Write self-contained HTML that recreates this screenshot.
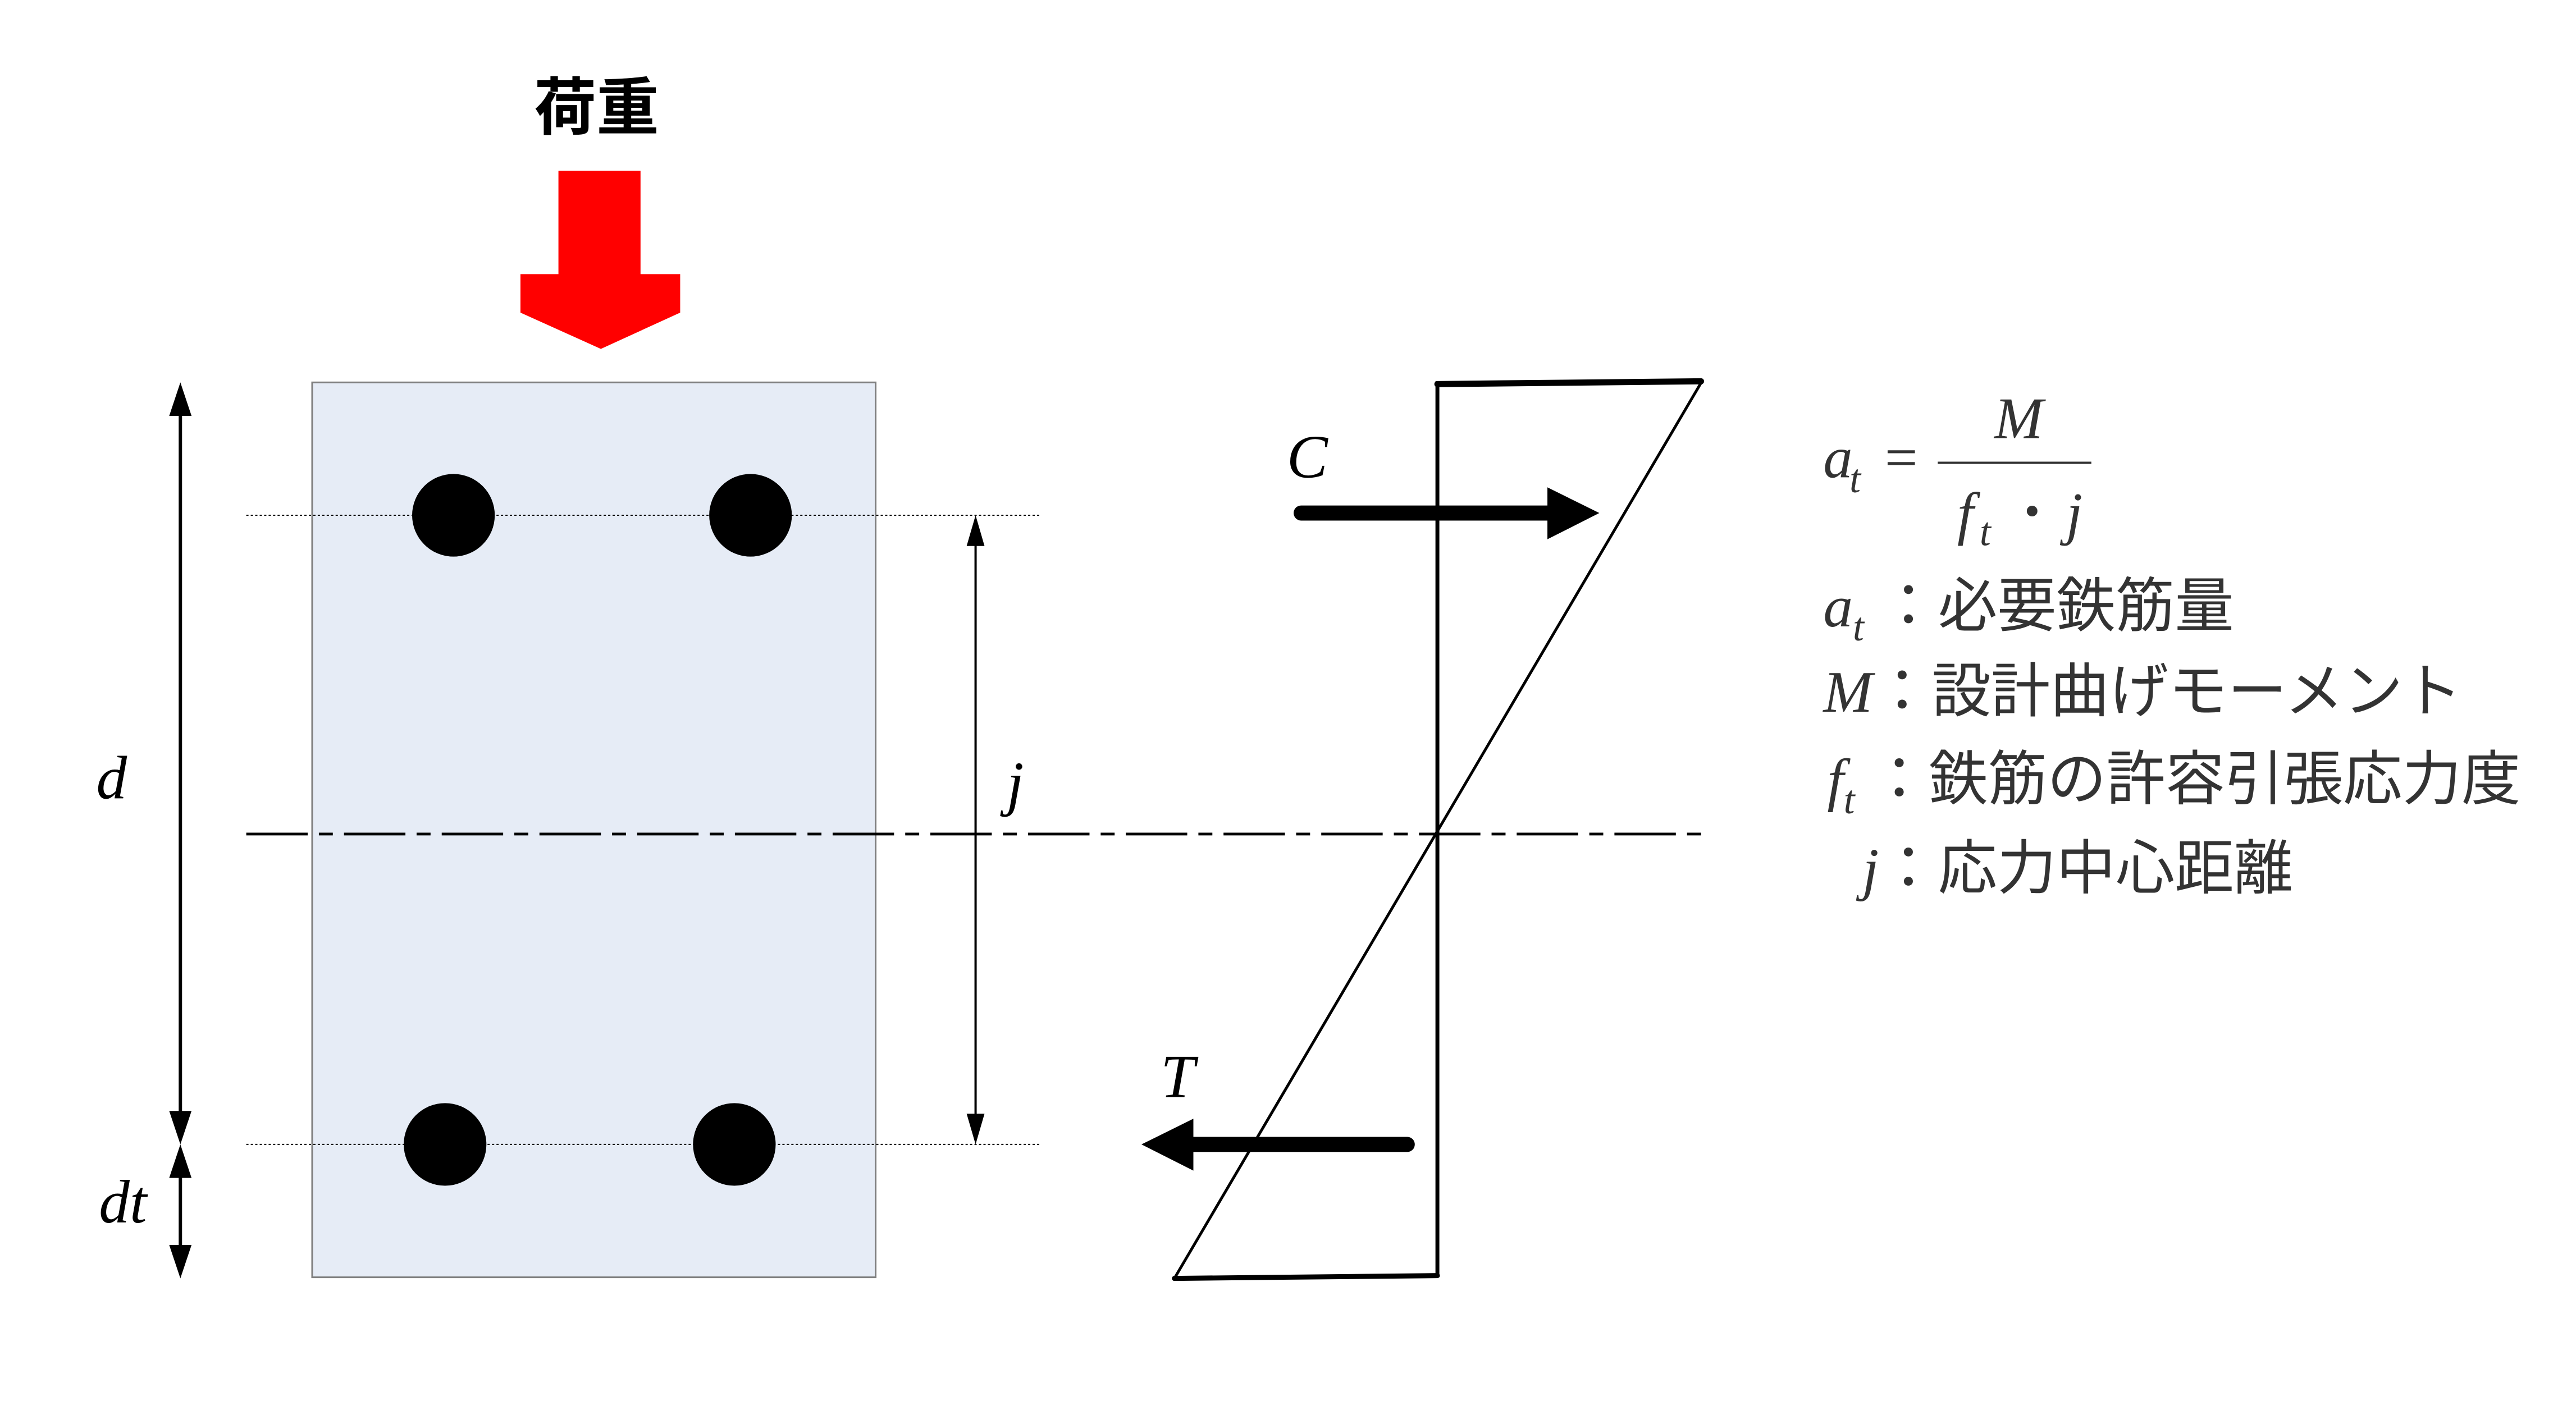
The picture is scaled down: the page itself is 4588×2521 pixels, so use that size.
<!DOCTYPE html>
<html><head><meta charset="utf-8"><style>
html,body{margin:0;padding:0;background:#fff;}
svg{display:block;}
</style></head><body>
<svg width="4588" height="2521" viewBox="0 0 4588 2521" xmlns="http://www.w3.org/2000/svg">
<rect width="4588" height="2521" fill="#fff"/>
<g transform="scale(0.9946)">
<text x="1068" y="232" font-family="'Liberation Sans','Noto Sans CJK JP',sans-serif" font-size="112" font-weight="bold" text-anchor="middle" fill="#000">荷重</text>
<polygon points="1000,306 1147,306 1147,491 1218,491 1218,560 1076,625 932,560 932,491 1000,491" fill="#ff0000"/>
<rect x="559" y="685" width="1009" height="1603" fill="#e6ecf6" stroke="#7f7f7f" stroke-width="3"/>
<line x1="441" y1="923" x2="1862" y2="923" stroke="#000" stroke-width="2" stroke-dasharray="4,4"/>
<line x1="441" y1="2050" x2="1862" y2="2050" stroke="#000" stroke-width="2" stroke-dasharray="4,4"/>
<circle cx="812" cy="923" r="74" fill="#000"/>
<circle cx="1344" cy="923" r="74" fill="#000"/>
<circle cx="797" cy="2050" r="74" fill="#000"/>
<circle cx="1315" cy="2050" r="74" fill="#000"/>
<line x1="441" y1="1494" x2="3059" y2="1494" stroke="#000" stroke-width="5" stroke-dasharray="110,20,25,20"/>
<line x1="323" y1="740" x2="323" y2="1995" stroke="#000" stroke-width="6"/>
<polygon points="323,685 303,745 343,745" fill="#000"/>
<polygon points="323,2050 303,1990 343,1990" fill="#000"/>
<line x1="323" y1="2100" x2="323" y2="2235" stroke="#000" stroke-width="6"/>
<polygon points="323,2050 303,2110 343,2110" fill="#000"/>
<polygon points="323,2290 303,2230 343,2230" fill="#000"/>
<line x1="1747" y1="975" x2="1747" y2="2000" stroke="#000" stroke-width="4"/>
<polygon points="1747,923 1731,978 1763,978" fill="#000"/>
<polygon points="1747,2050 1731,1995 1763,1995" fill="#000"/>
<g font-family="'Liberation Serif',serif" font-style="italic" font-size="110" fill="#000">
<text x="200" y="1430" text-anchor="middle">d</text>
<text x="220" y="2190" text-anchor="middle">dt</text>
<text x="1818" y="1440" text-anchor="middle">j</text>
<text x="2341" y="855" text-anchor="middle">C</text>
<text x="2109" y="1965" text-anchor="middle">T</text>
</g>
<line x1="2574" y1="683" x2="2574" y2="2288" stroke="#000" stroke-width="7"/>
<line x1="2574" y1="688" x2="3046" y2="683" stroke="#000" stroke-width="11" stroke-linecap="round"/>
<line x1="3046" y1="686" x2="2103" y2="2290" stroke="#000" stroke-width="5"/>
<line x1="2103" y1="2290" x2="2574" y2="2285" stroke="#000" stroke-width="9" stroke-linecap="round"/>
<line x1="2330" y1="919" x2="2780" y2="919" stroke="#000" stroke-width="27" stroke-linecap="round"/>
<polygon points="2771,873 2864,919 2771,966" fill="#000"/>
<line x1="2520" y1="2050" x2="2130" y2="2050" stroke="#000" stroke-width="27" stroke-linecap="round"/>
<polygon points="2137,2004 2044,2050 2137,2097" fill="#000"/>
<g fill="#333" font-family="'Liberation Serif',serif" font-style="italic">
<text x="3265" y="855" font-size="105">a</text>
<text x="3312" y="882" font-size="72">t</text>
<text x="3375" y="855" font-size="105" font-style="normal">=</text>
<line x1="3470" y1="829" x2="3745" y2="829" stroke="#333" stroke-width="4"/>
<text x="3615" y="785" font-size="105" text-anchor="middle">M</text>
<text x="3505" y="955" font-size="105">f</text>
<text x="3545" y="977" font-size="72">t</text>
<text x="3625" y="942" font-size="80" font-style="normal">•</text>
<text x="3700" y="955" font-size="105">j</text>
</g>
<g fill="#333" font-size="106" font-family="'Liberation Serif','Noto Sans CJK JP',serif">
<text x="3265" y="1122"><tspan font-style="italic">a</tspan><tspan font-style="italic" font-size="72" dy="25">t</tspan><tspan dy="-25"> ：必要鉄筋量</tspan></text>
<text x="3265" y="1275"><tspan font-style="italic">M</tspan><tspan>：設計曲げモーメント</tspan></text>
<text x="3272" y="1432"><tspan font-style="italic">f</tspan><tspan font-style="italic" font-size="72" dy="25">t</tspan><tspan dy="-25"> ：鉄筋の許容引張応力度</tspan></text>
<text x="3335" y="1592"><tspan font-style="italic">j</tspan><tspan>：応力中心距離</tspan></text>
</g>
</g>
</svg>
</body></html>
